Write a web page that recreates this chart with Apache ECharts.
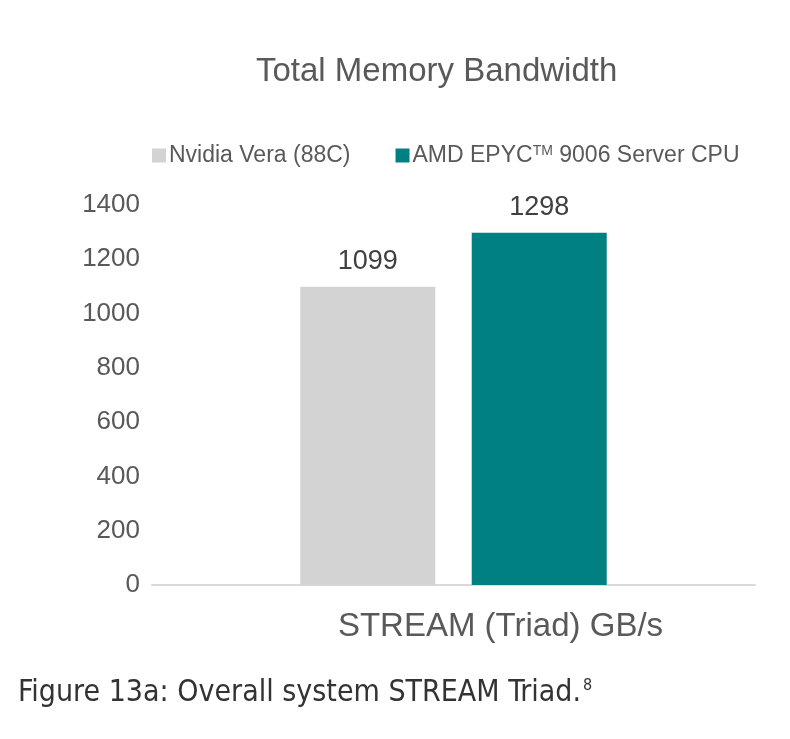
<!DOCTYPE html>
<html>
<head>
<meta charset="utf-8">
<script src="https://cdn.jsdelivr.net/npm/echarts@6/dist/echarts.min.js"></script>
<style>
  html, body { margin: 0; padding: 0; background: #fff; }
  #main { width: 790px; height: 739px; }
</style>
</head>
<body>
<div id="main"></div>
<script>
// data
var categories = ['STREAM (Triad) GB/s'];
var seriesNames = ['Nvidia Vera (88C)', 'AMD EPYC™ 9006 Server CPU'];
var veraValues = [1099];
var amdValues = [1298];
var yTicks = [0, 1400, 200]; // min, max, interval

var myChart = echarts.init(document.getElementById('main'));

var option = {
  backgroundColor: '#ffffff',
  title: {
    text: 'Total Memory Bandwidth',
    left: 256,
    top: 55,
    padding: 0,
    textStyle: {
      fontFamily: 'Liberation Sans',
      fontSize: 33,
      fontWeight: 'normal',
      color: '#595959'
    }
  },
  legend: {
    data: seriesNames,
    left: 152,
    top: 144,
    padding: 0,
    icon: 'rect',
    itemWidth: 14,
    itemHeight: 14,
    itemGap: 45,
    formatter: function (name) {
      if (name.indexOf('™') > -1) {
        return 'AMD EPYC{sup|TM} 9006 Server CPU';
      }
      return name;
    },
    textStyle: {
      fontFamily: 'Liberation Sans',
      fontSize: 23,
      color: '#595959',
      padding: [0, 0, 0, -2],
      rich: {
        sup: {
          fontFamily: 'Liberation Sans',
          fontSize: 14,
          color: '#595959',
          verticalAlign: 'top',
          padding: [0, 0, 9, 0]
        }
      }
    }
  },
  grid: {
    left: 152,
    right: 35,
    top: 205,
    bottom: 154
  },
  xAxis: {
    type: 'category',
    data: categories,
    axisLine: { lineStyle: { color: '#d9d9d9', width: 2 } },
    axisTick: { show: false },
    axisLabel: {
      margin: 25,
      padding: [0, 0, 0, 94],
      fontFamily: 'Liberation Sans',
      fontSize: 33,
      color: '#595959'
    }
  },
  yAxis: {
    type: 'value',
    min: yTicks[0],
    max: yTicks[1],
    interval: yTicks[2],
    axisLine: { show: false },
    axisTick: { show: false },
    splitLine: { show: false },
    axisLabel: {
      margin: 12,
      formatter: function (v) { return String(v); },
      fontFamily: 'Liberation Sans',
      fontSize: 26,
      color: '#595959'
    }
  },
  series: [{
    name: seriesNames[0],
    type: 'bar',
    data: veraValues,
    barWidth: 135,
    barGap: '27%',
    itemStyle: { color: '#d3d3d3' },
    label: {
      show: true,
      position: 'top',
      distance: 12,
      fontFamily: 'Liberation Sans',
      fontSize: 27,
      color: '#404040'
    }
  }, {
    name: seriesNames[1],
    type: 'bar',
    data: amdValues,
    barWidth: 135,
    barGap: '27%',
    itemStyle: { color: '#008080' },
    label: {
      show: true,
      position: 'top',
      distance: 12,
      fontFamily: 'Liberation Sans',
      fontSize: 27,
      color: '#404040'
    }
  }],
  graphic: [{
    type: 'text',
    left: 18,
    top: 678,
    style: {
      text: 'Figure 13a: Overall system STREAM Triad.{sup|8}',
      fontFamily: 'Liberation Sans Narrow, DejaVu Sans Condensed',
      fontSize: 30,
      fill: '#333333',
      rich: {
        sup: {
          fontFamily: 'Liberation Sans Narrow, DejaVu Sans Condensed',
          fontSize: 16,
          fill: '#333333',
          verticalAlign: 'top',
          padding: [0, 0, 14, 2]
        }
      }
    }
  }]
};

myChart.setOption(option);
</script>
</body>
</html>
